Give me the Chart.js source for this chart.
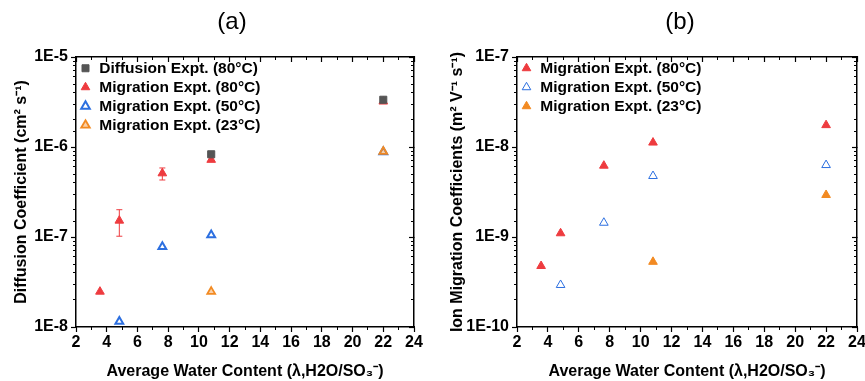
<!DOCTYPE html>
<html>
<head>
<meta charset="utf-8">
<script src="https://cdn.jsdelivr.net/npm/chart.js@4.4.0/dist/chart.umd.min.js"></script>
<style>
  html, body { margin: 0; padding: 0; background: #fff; overflow: hidden; }
  body { width: 865px; height: 381px; position: relative; }
  canvas { position: absolute; top: 0; }
  #chartA { left: 0; }
  #chartB { left: 440px; }
</style>
</head>
<body>
<canvas id="chartA" width="464" height="381"></canvas>
<canvas id="chartB" width="480" height="381"></canvas>
<script>
// ---- data ----
// (a) diffusion coefficients, cm2/s
const lamDiff80A = [10.8, 22];
const diff80A = [8.3e-7, 3.35e-6];
const lamMig80A = [3.56, 4.82, 7.62, 10.8, 22];
const mig80A = [2.47e-8, 1.52e-7, 5.1e-7, 7.2e-7, 3.2e-6];
const mig80ALo = [null, 1.02e-7, 4.3e-7, null, null];
const mig80AHi = [null, 2.01e-7, 5.85e-7, null, null];
const lamMig50A = [4.82, 7.62, 10.8, 22];
const mig50A = [1.15e-8, 7.8e-8, 1.05e-7, 8.8e-7];
const lamMig23A = [10.8, 22];
const mig23A = [2.47e-8, 8.9e-7];

// (b) ion migration coefficients, m2/(V s)
const lamMig80B = [3.56, 4.82, 7.62, 10.8, 22];
const mig80B = [4.76e-10, 1.1e-9, 6.2e-9, 1.12e-8, 1.75e-8];
const lamMig50B = [4.82, 7.62, 10.8, 22];
const mig50B = [2.93e-10, 1.44e-9, 4.76e-9, 6.3e-9];
const lamMig23B = [10.8, 22];
const mig23B = [5.3e-10, 2.93e-9];

const xTicksMin = 2, xTicksMax = 24;

const RED = '#EE3B3F', BLUE = '#2C6FE0', ORANGE = '#F28A22', GRAY = '#555555';
const FAM = '"Liberation Sans", Arial, sans-serif';
const tickFont = { family: FAM, size: 16, weight: 'bold' };
const titleFont = { family: FAM, size: 16, weight: 'bold' };

const pts = (xs, ys) => xs.map((x, i) => ({ x: x, y: ys[i] }));
const isDecade = v => Math.abs(Math.log10(v) - Math.round(Math.log10(v))) < 1e-6;
const keepDecades = s => { s.ticks = s.ticks.filter(t => isDecade(t.value)); };

// error bars drawn under the markers
const errorBars = {
  id: 'errorBars',
  beforeDatasetsDraw(chart) {
    const { ctx, scales } = chart;
    chart.data.datasets.forEach(ds => {
      if (!ds.errLo) return;
      ctx.save();
      ctx.strokeStyle = ds.borderColor;
      ctx.lineWidth = 1;
      ds.data.forEach((p, i) => {
        if (ds.errLo[i] == null) return;
        const px = scales.x.getPixelForValue(p.x);
        const lo = scales.y.getPixelForValue(ds.errLo[i]);
        const hi = scales.y.getPixelForValue(ds.errHi[i]);
        ctx.beginPath();
        ctx.moveTo(px, lo); ctx.lineTo(px, hi);
        ctx.moveTo(px - 3, lo); ctx.lineTo(px + 3, lo);
        ctx.moveTo(px - 3, hi); ctx.lineTo(px + 3, hi);
        ctx.stroke();
      });
      ctx.restore();
    });
  }
};

// legend with position 'chartArea' ends up at top 0, push it into the plot box
const legendInside = {
  id: 'legendInside',
  afterLayout(chart) {
    const lg = chart.legend;
    if (!lg) return;
    const dy = chart.chartArea.top - lg.top;
    lg.top += dy;
    lg.bottom += dy;
  }
};

function makeScales(o) {
  const frame = { color: '#000', width: 1.5 };
  const minorGrid = len => ({ drawOnChartArea: false, tickLength: len, tickColor: '#000', tickWidth: 1 });
  return {
    x: {
      type: 'linear', position: 'bottom', min: xTicksMin, max: xTicksMax, weight: 1,
      ticks: { stepSize: 2, color: '#000', font: tickFont, padding: 1, autoSkip: false, maxRotation: 0 },
      grid: { drawOnChartArea: false, tickLength: 5, tickColor: '#000', tickWidth: 1.2 },
      border: frame,
      title: { display: true, text: 'Average Water Content (λ,H2O/SO₃⁻)', color: '#000', font: titleFont, padding: { top: 0, bottom: 0 } },
      afterFit: s => { s.height = 54; }
    },
    xMinor: {
      type: 'linear', position: 'bottom', min: xTicksMin, max: xTicksMax, weight: 0,
      ticks: { stepSize: 1, display: false },
      grid: minorGrid(3), border: { display: false },
      afterFit: s => { s.height = 0; }
    },
    xTop: {
      type: 'linear', position: 'top', min: xTicksMin, max: xTicksMax, weight: 1,
      ticks: { stepSize: 2, display: false },
      grid: { drawOnChartArea: false, tickLength: -5, tickColor: '#000', tickWidth: 1.2 },
      border: frame,
      afterFit: s => { s.height = 20.2; }
    },
    xTopMinor: {
      type: 'linear', position: 'top', min: xTicksMin, max: xTicksMax, weight: 0,
      ticks: { stepSize: 1, display: false },
      grid: minorGrid(-3), border: { display: false },
      afterFit: s => { s.height = 0; }
    },
    y: {
      type: 'logarithmic', position: 'left', min: o.min, max: o.max, weight: 1,
      afterBuildTicks: keepDecades,
      ticks: { color: '#000', font: tickFont, padding: 3, autoSkip: false,
               callback: v => isDecade(v) ? '1E' + Math.round(Math.log10(v)) : '' },
      grid: { drawOnChartArea: false, tickLength: 5, tickColor: '#000', tickWidth: 1.2 },
      border: frame,
      title: { display: true, text: o.yTitle, color: '#000', font: titleFont, padding: { top: o.yTitlePad, bottom: 0 } },
      afterFit: s => { s.width = o.leftW; }
    },
    yMinor: {
      type: 'logarithmic', position: 'left', min: o.min, max: o.max, weight: 0,
      ticks: { display: false },
      grid: minorGrid(3), border: { display: false },
      afterFit: s => { s.width = 0; }
    },
    yRight: {
      type: 'logarithmic', position: 'right', min: o.min, max: o.max, weight: 1,
      afterBuildTicks: keepDecades,
      ticks: { display: false },
      grid: { drawOnChartArea: false, tickLength: -5, tickColor: '#000', tickWidth: 1.2 },
      border: frame,
      afterFit: s => { s.width = o.rightW; }
    },
    yRightMinor: {
      type: 'logarithmic', position: 'right', min: o.min, max: o.max, weight: 0,
      ticks: { display: false },
      grid: minorGrid(-3), border: { display: false },
      afterFit: s => { s.width = 0; }
    }
  };
}

function makeChart(id, title, datasets, o) {
  return new Chart(document.getElementById(id), {
    type: 'scatter',
    data: { datasets: datasets },
    options: {
      responsive: false,
      animation: false,
      devicePixelRatio: 1,
      layout: { padding: 0 },
      plugins: {
        title: { display: true, text: title, color: '#000', font: { family: FAM, size: 24, weight: 'normal' }, padding: { top: 8, bottom: 0 } },
        legend: {
          position: 'chartArea', align: 'start',
          labels: { usePointStyle: true, boxWidth: 12, boxHeight: 7, padding: 3.5, color: '#000',
                    font: { family: FAM, size: 15.5, weight: 'bold' },
                    sort: (a, b) => a.datasetIndex - b.datasetIndex }
        },
        tooltip: { enabled: false }
      },
      scales: makeScales(o)
    },
    plugins: [errorBars, legendInside]
  });
}

makeChart('chartA', '(a)', [
  { label: 'Diffusion Expt. (80°C)', data: pts(lamDiff80A, diff80A), order: 0,
    pointStyle: 'rect', pointRadius: 5, backgroundColor: GRAY, borderColor: GRAY, borderWidth: 1 },
  { label: 'Migration Expt. (80°C)', data: pts(lamMig80A, mig80A), order: 1,
    errLo: mig80ALo, errHi: mig80AHi,
    pointStyle: 'triangle', pointRadius: 5, backgroundColor: RED, borderColor: RED, borderWidth: 1 },
  { label: 'Migration Expt. (50°C)', data: pts(lamMig50A, mig50A), order: 3,
    pointStyle: 'triangle', pointRadius: 4.5, backgroundColor: '#fff', borderColor: BLUE, borderWidth: 2 },
  { label: 'Migration Expt. (23°C)', data: pts(lamMig23A, mig23A), order: 2,
    pointStyle: 'triangle', pointRadius: 4.5, backgroundColor: 'rgba(242,138,34,0.4)', borderColor: ORANGE, borderWidth: 1.8 }
], { min: 1e-8, max: 1e-5, yTitle: 'Diffusion Coefficient (cm² s⁻¹)', yTitlePad: 12, leftW: 76, rightW: 50 });

makeChart('chartB', '(b)', [
  { label: 'Migration Expt. (80°C)', data: pts(lamMig80B, mig80B), order: 1,
    pointStyle: 'triangle', pointRadius: 5, backgroundColor: RED, borderColor: RED, borderWidth: 1 },
  { label: 'Migration Expt. (50°C)', data: pts(lamMig50B, mig50B), order: 3,
    pointStyle: 'triangle', pointRadius: 5, backgroundColor: '#fff', borderColor: BLUE, borderWidth: 1 },
  { label: 'Migration Expt. (23°C)', data: pts(lamMig23B, mig23B), order: 2,
    pointStyle: 'triangle', pointRadius: 5, backgroundColor: ORANGE, borderColor: ORANGE, borderWidth: 1 }
], { min: 1e-10, max: 1e-7, yTitle: 'Ion Migration Coefficients (m² V⁻¹ s⁻¹)', yTitlePad: 8, leftW: 77, rightW: 63 });
</script>
</body>
</html>
